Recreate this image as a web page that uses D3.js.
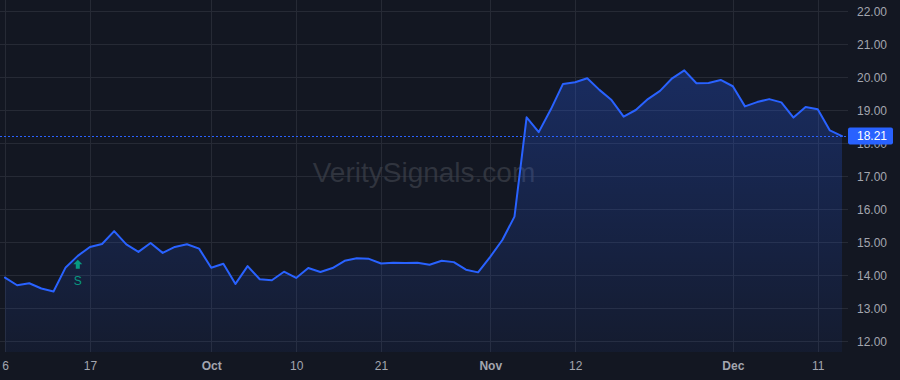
<!DOCTYPE html>
<html>
  <head>
    <title>VeritySignals - Price Chart</title>
    <script src="https://d3js.org/d3.v7.min.js"></script>
    <style>
      body { margin: 0; background: #131722; }
      svg { display: block; font-family: "Liberation Sans", Arial, sans-serif; }
    </style>
  </head>

  <body>
    <svg width="900" height="380"></svg>

    <script type="text/javascript">
      // trading days shown on the chart (2024)
      var dates = [
        "2024-09-06", "2024-09-09", "2024-09-10", "2024-09-11", "2024-09-12", "2024-09-13",
        "2024-09-16", "2024-09-17", "2024-09-18", "2024-09-19", "2024-09-20",
        "2024-09-23", "2024-09-24", "2024-09-25", "2024-09-26", "2024-09-27", "2024-09-30",
        "2024-10-01", "2024-10-02", "2024-10-03", "2024-10-04",
        "2024-10-07", "2024-10-08", "2024-10-09", "2024-10-10", "2024-10-11",
        "2024-10-14", "2024-10-15", "2024-10-16", "2024-10-17", "2024-10-18",
        "2024-10-21", "2024-10-22", "2024-10-23", "2024-10-24", "2024-10-25",
        "2024-10-28", "2024-10-29", "2024-10-30", "2024-10-31", "2024-11-01",
        "2024-11-04", "2024-11-05", "2024-11-06", "2024-11-07", "2024-11-08",
        "2024-11-11", "2024-11-12", "2024-11-13", "2024-11-14", "2024-11-15",
        "2024-11-18", "2024-11-19", "2024-11-20", "2024-11-21", "2024-11-22",
        "2024-11-25", "2024-11-26", "2024-11-27", "2024-11-29",
        "2024-12-02", "2024-12-03", "2024-12-04", "2024-12-05", "2024-12-06",
        "2024-12-09", "2024-12-10", "2024-12-11", "2024-12-12", "2024-12-13"
      ];

      var closes = [
        13.92, 13.69, 13.75, 13.59, 13.50, 14.23,
        14.58, 14.85, 14.94, 15.33, 14.93,
        14.70, 14.97, 14.67, 14.85, 14.93, 14.80,
        14.22, 14.34, 13.73, 14.27,
        13.87, 13.84, 14.10, 13.91, 14.21,
        14.09, 14.21, 14.43, 14.51, 14.49,
        14.35, 14.37, 14.36, 14.37, 14.31,
        14.43, 14.39, 14.16, 14.08, 14.55,
        15.06, 15.77, 18.78, 18.33, 19.02,
        19.79, 19.84, 19.96, 19.61, 19.30,
        18.80, 19.00, 19.33, 19.58, 19.96,
        20.20, 19.81, 19.82, 19.91,
        19.72, 19.11, 19.24, 19.33, 19.23,
        18.77, 19.09, 19.02, 18.38, 18.21
      ];

      var xTickDates = ["2024-09-06", "2024-09-17", "2024-10-01", "2024-10-10", "2024-10-21",
                        "2024-11-01", "2024-11-12", "2024-12-02", "2024-12-11"];
      var xTickLabels = ["6", "17", "Oct", "10", "21", "Nov", "12", "Dec", "11"];
      var monthLabels = ["Oct", "Nov", "Dec"];

      var yTicks = [12, 13, 14, 15, 16, 17, 18, 19, 20, 21, 22];

      var signalDates = ["2024-09-16"];
      var signalTexts = ["S"];

      var lastPrice = closes[closes.length - 1];

      var svg = d3.select("svg"),
        W = +svg.attr("width"),
        H = +svg.attr("height"),
        paneRight = 848,
        paneBottom = 352;

      svg.append("rect").attr("width", W).attr("height", H).attr("fill", "#131722");

      var data = dates.map(function (d, i) { return { date: d, close: closes[i] }; });

      var xScale = d3.scalePoint().domain(dates).range([5, 842]);
      var yScale = d3.scaleLinear().domain([12, 22]).range([341, 11]);

      // grid
      var grid = svg.append("g");
      grid.selectAll(".hg").data(yTicks).enter().append("line")
        .attr("x1", 0).attr("x2", paneRight)
        .attr("y1", function (d) { return Math.round(yScale(d)) + 0.5; })
        .attr("y2", function (d) { return Math.round(yScale(d)) + 0.5; })
        .attr("stroke", "#262a35").attr("stroke-width", 1);
      grid.selectAll(".vg").data(xTickDates).enter().append("line")
        .attr("y1", 0).attr("y2", paneBottom)
        .attr("x1", function (d) { return Math.round(xScale(d)) + 0.5; })
        .attr("x2", function (d) { return Math.round(xScale(d)) + 0.5; })
        .attr("stroke", "#262a35").attr("stroke-width", 1);

      // watermark
      svg.append("text")
        .attr("x", 424).attr("y", 182)
        .attr("text-anchor", "middle")
        .attr("font-size", 28)
        .attr("fill", "#3a3e48")
        .attr("fill-opacity", 0.75)
        .text("VeritySignals.com");

      // area gradient
      var grad = svg.append("defs").append("linearGradient")
        .attr("id", "areaGrad").attr("x1", 0).attr("x2", 0).attr("y1", 0).attr("y2", 1);
      grad.append("stop").attr("offset", "0%").attr("stop-color", "#2962ff").attr("stop-opacity", 0.28);
      grad.append("stop").attr("offset", "100%").attr("stop-color", "#2962ff").attr("stop-opacity", 0.06);

      var area = d3.area()
        .x(function (d) { return xScale(d.date); })
        .y0(paneBottom)
        .y1(function (d) { return yScale(d.close); });

      var line = d3.line()
        .x(function (d) { return xScale(d.date); })
        .y(function (d) { return yScale(d.close); });

      svg.append("path")
        .attr("d", area(data))
        .attr("fill", "url(#areaGrad)");

      // last price dotted line
      svg.append("line")
        .attr("x1", 0).attr("x2", paneRight)
        .attr("y1", Math.round(yScale(lastPrice)) + 0.5)
        .attr("y2", Math.round(yScale(lastPrice)) + 0.5)
        .attr("stroke", "#2962ff")
        .attr("stroke-width", 1)
        .attr("stroke-dasharray", "2,2");

      svg.append("path")
        .attr("d", line(data))
        .attr("fill", "none")
        .attr("stroke", "#2962ff")
        .attr("stroke-width", 2)
        .attr("stroke-linejoin", "round")
        .attr("stroke-linecap", "round");

      // signal markers
      signalDates.forEach(function (d, k) {
        var i = dates.indexOf(d);
        var cx = xScale(d), top = yScale(closes[i]) + 4;
        svg.append("path")
          .attr("d", "M" + cx + "," + top + "l4.5,4.5h-2.5v4.5h-4v-4.5h-2.5z")
          .attr("fill", "#089981");
        svg.append("text")
          .attr("x", cx).attr("y", top + 25)
          .attr("text-anchor", "middle")
          .attr("font-size", 12)
          .attr("fill", "#089981")
          .text(signalTexts[k]);
      });

      // x axis
      var xAxis = svg.append("g")
        .attr("transform", "translate(0," + paneBottom + ")")
        .call(d3.axisBottom(xScale).tickValues(xTickDates).tickSize(0).tickPadding(0)
          .tickFormat(function (d) { return xTickLabels[xTickDates.indexOf(d)]; }));
      xAxis.select(".domain").remove();
      xAxis.selectAll("text")
        .attr("y", 18).attr("dy", 0)
        .attr("font-size", 12)
        .attr("font-family", "'Liberation Sans', Arial, sans-serif")
        .attr("fill", "#a3a6af")
        .attr("font-weight", function (d) {
          return monthLabels.indexOf(xTickLabels[xTickDates.indexOf(d)]) >= 0 ? "bold" : "normal";
        });

      // y axis
      var yAxis = svg.append("g")
        .attr("transform", "translate(" + paneRight + ",0)")
        .call(d3.axisRight(yScale).tickValues(yTicks).tickSize(0)
          .tickFormat(d3.format(".2f")));
      yAxis.select(".domain").remove();
      yAxis.selectAll("text")
        .attr("x", 39).attr("dy", "0.35em")
        .attr("text-anchor", "end")
        .attr("font-size", 12)
        .attr("font-family", "'Liberation Sans', Arial, sans-serif")
        .attr("fill", "#a3a6af");

      // last price label
      var ly = yScale(lastPrice);
      svg.append("rect")
        .attr("x", paneRight).attr("y", ly - 8.5)
        .attr("width", 45).attr("height", 17)
        .attr("rx", 2)
        .attr("fill", "#2962ff");
      svg.append("text")
        .attr("x", paneRight + 39).attr("y", ly)
        .attr("dy", "0.35em")
        .attr("text-anchor", "end")
        .attr("font-size", 12)
        .attr("fill", "#ffffff")
        .text(d3.format(".2f")(lastPrice));
    </script>
  </body>
</html>
